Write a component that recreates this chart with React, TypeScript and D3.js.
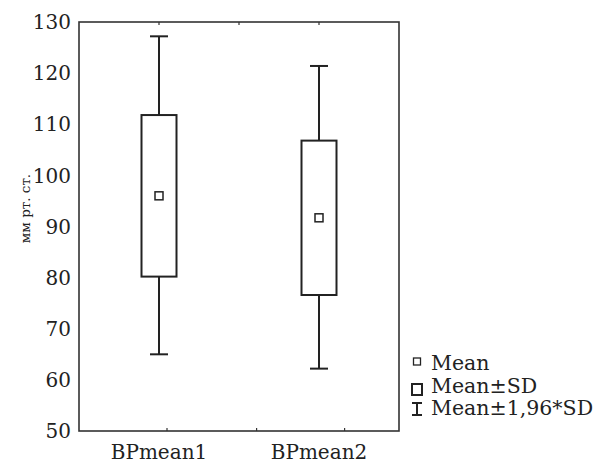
import React from "react";
import * as d3 from "d3";

const categories = ["BPmean1", "BPmean2"];
const means = [96.0, 91.7];
const sdLow = [80.2, 76.6];
const sdHigh = [111.8, 106.8];
const ciLow = [65.0, 62.2];
const ciHigh = [127.2, 121.4];
const yTicks = [50, 60, 70, 80, 90, 100, 110, 120, 130];
const topTicks = [0.5, 1, 1.5];
const bottomTicks = [0.55, 1.11, 1.66];
const legendItems = ["Mean", "Mean±SD", "Mean±1,96*SD"];

const W = 595, H = 464;
const M = { left: 79, right: 196, top: 22, bottom: 33 };
const FONT = "DejaVu Serif";
const INK = "#222";

export default function App() {
  const x = d3.scaleLinear().domain([0, 2]).range([M.left, W - M.right]);
  const y = d3.scaleLinear().domain([50, 130]).range([H - M.bottom, M.top]);
  const boxW = 35, capW = 18, meanS = 8;
  const ts = (size: number) => ({ fontFamily: FONT, fontSize: size + "px" });
  return (
    <svg width={W} height={H} style={{ position: "absolute", left: 0, top: 0, background: "#fff" }}>
      <rect x={M.left} y={M.top} width={x(2) - x(0)} height={y(50) - y(130)} fill="none" stroke="#333" strokeWidth={1.6} />
      {topTicks.map((t, i) => (
        <line key={"tt" + i} x1={x(t)} x2={x(t)} y1={y(130)} y2={y(130) + 3} stroke="#333" strokeWidth={1.2} />
      ))}
      {bottomTicks.map((t, i) => (
        <line key={"bt" + i} x1={x(t)} x2={x(t)} y1={y(50)} y2={y(50) - 3} stroke="#333" strokeWidth={1.2} />
      ))}
      {yTicks.map((t) => (
        <text key={t} x={M.left - 8} y={y(t)} dy="0.36em" textAnchor="end" style={ts(20)} fill={INK}>{t}</text>
      ))}
      <text transform={`translate(30,${(y(50) + y(130)) / 2 - 18}) rotate(-90)`} textAnchor="middle" style={ts(13.5)} fill={INK}>мм рт. ст.</text>
      {categories.map((c, i) => {
        const cx = x(i + 0.5);
        return (
          <g key={c}>
            <line x1={cx} x2={cx} y1={y(ciHigh[i])} y2={y(sdHigh[i])} stroke={INK} strokeWidth={2} />
            <line x1={cx} x2={cx} y1={y(sdLow[i])} y2={y(ciLow[i])} stroke={INK} strokeWidth={2} />
            <line x1={cx - capW / 2} x2={cx + capW / 2} y1={y(ciHigh[i])} y2={y(ciHigh[i])} stroke={INK} strokeWidth={2} />
            <line x1={cx - capW / 2} x2={cx + capW / 2} y1={y(ciLow[i])} y2={y(ciLow[i])} stroke={INK} strokeWidth={2} />
            <rect x={cx - boxW / 2} y={y(sdHigh[i])} width={boxW} height={y(sdLow[i]) - y(sdHigh[i])} fill="#fff" stroke={INK} strokeWidth={2} />
            <rect x={cx - meanS / 2} y={y(means[i]) - meanS / 2} width={meanS} height={meanS} fill="#fff" stroke={INK} strokeWidth={1.5} />
            <text x={cx} y={H - 5} textAnchor="middle" style={ts(20)} fill={INK}>{c}</text>
          </g>
        );
      })}
      <g>
        <rect x={413.5} y={358} width={7} height={7} fill="#fff" stroke={INK} strokeWidth={1.3} />
        <rect x={412} y={384} width={10} height={11} fill="#fff" stroke={INK} strokeWidth={2} />
        <line x1={417} x2={417} y1={403} y2={415} stroke={INK} strokeWidth={2} />
        <line x1={412} x2={422} y1={403} y2={403} stroke={INK} strokeWidth={2} />
        <line x1={412} x2={422} y1={415} y2={415} stroke={INK} strokeWidth={2} />
        {legendItems.map((l, i) => (
          <text key={l} x={431} y={370 + i * 22.5} style={ts(20.5)} fill={INK}>{l}</text>
        ))}
      </g>
    </svg>
  );
}
